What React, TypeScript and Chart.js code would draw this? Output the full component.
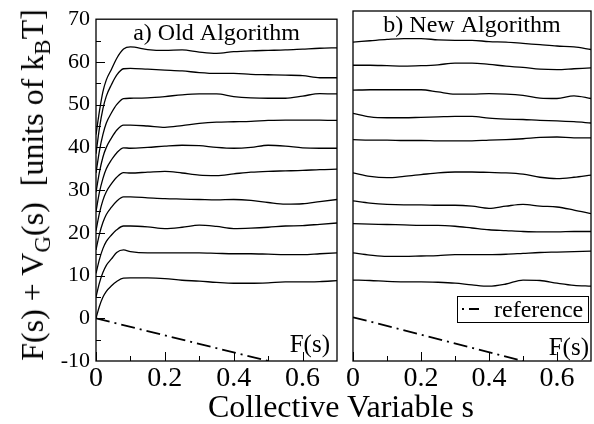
import React, { useEffect, useRef } from "react";
import { Chart, registerables } from "chart.js";
Chart.register(...registerables);

const FONT = "'Liberation Serif', 'Times New Roman', serif";

// s values for the old-algorithm curves (dense near 0 for the steep rise)
const S_OLD = [0, 0.01, 0.02, 0.03, 0.045, 0.06, 0.08, 0.1, 0.15, 0.2, 0.25, 0.3, 0.35, 0.4, 0.45, 0.5, 0.55, 0.6, 0.65, 0.7];
const OLD_1 = [43, 48.5, 53, 55.8, 58.3, 60.8, 63.0, 63.5, 62.9, 62.7, 62.8, 62.3, 62.0, 62.4, 62.6, 62.7, 62.8, 63.0, 63.2, 63.3];
const OLD_2 = [38.5, 44.5, 49, 52, 54.7, 56.9, 58.4, 58.5, 58.3, 58.1, 57.9, 57.5, 57.3, 57.3, 57.1, 57.0, 56.9, 56.8, 56.3, 56.3];
const OLD_3 = [34, 39.2, 43, 45.7, 48.1, 50, 51.4, 51.5, 51.6, 51.9, 52.3, 52.5, 52.5, 51.9, 51.6, 51.5, 51.5, 52.0, 52.6, 52.5];
const OLD_4 = [29.5, 34.2, 37.7, 40, 42.2, 44, 45.2, 45.2, 45.0, 44.7, 45.1, 45.6, 45.9, 46.0, 46.1, 46.3, 46.4, 46.4, 46.4, 46.3];
const OLD_5 = [25, 29.5, 32.7, 35, 37.1, 38.7, 39.9, 39.8, 40.0, 40.3, 40.5, 40.4, 40.0, 39.8, 40.0, 40.5, 40.3, 39.9, 39.8, 39.8];
const OLD_6 = [20.5, 24.6, 27.6, 29.6, 31.5, 33, 34.1, 34.0, 34.2, 34.4, 34.0, 33.5, 33.4, 33.8, 34.2, 34.4, 34.5, 34.6, 34.8, 34.9];
const OLD_7 = [16, 19.7, 22.4, 24.3, 26, 27.4, 28.4, 28.4, 28.2, 28.0, 27.9, 27.8, 27.7, 27.8, 27.6, 27.1, 26.7, 26.8, 27.3, 27.8];
const OLD_8 = [10.5, 13.8, 16.3, 18, 19.5, 20.7, 21.6, 21.6, 21.4, 21.0, 21.3, 21.8, 21.5, 21.0, 21.1, 21.3, 21.6, 21.7, 22.0, 22.3];
const OLD_9 = [5, 8.3, 10.7, 12.4, 13.9, 15.4, 16.0, 15.6, 15.3, 15.3, 15.3, 15.3, 15.2, 15.1, 15.1, 15.0, 14.9, 14.9, 15.1, 15.3];
const OLD_10 = [0, 2.8, 4.9, 6.3, 7.6, 8.6, 9.4, 9.45, 9.45, 9.3, 8.9, 8.7, 8.4, 8.2, 8.2, 8.3, 8.5, 8.5, 8.6, 8.8];

// s values for the new-algorithm curves
const S_NEW = [0, 0.05, 0.1, 0.15, 0.2, 0.25, 0.3, 0.35, 0.4, 0.45, 0.5, 0.55, 0.6, 0.65, 0.7];
const NEW_1 = [62.9, 63.2, 63.5, 63.7, 63.7, 63.4, 63.3, 63.3, 63.0, 62.9, 62.6, 62.3, 62.0, 61.8, 61.2];
const NEW_2 = [57.6, 57.6, 57.5, 57.4, 57.5, 57.7, 58.1, 58.1, 57.8, 57.4, 57.1, 56.7, 56.6, 56.8, 57.0];
const NEW_3 = [51.9, 52.0, 52.0, 52.0, 52.0, 51.5, 51.0, 51.0, 51.1, 51.0, 50.7, 50.1, 50.0, 50.6, 50.0];
const NEW_4 = [46.6, 45.8, 45.6, 45.6, 45.7, 45.8, 45.9, 45.9, 45.5, 45.3, 45.2, 45.0, 44.9, 44.7, 44.4];
const NEW_5 = [40.6, 40.5, 40.5, 40.4, 40.4, 40.3, 40.3, 40.3, 40.5, 40.6, 40.8, 41.1, 41.2, 41.0, 41.0];
const NEW_6 = [33.0, 32.2, 31.9, 32.2, 32.6, 33.0, 33.2, 33.2, 33.1, 33.0, 32.7, 32.0, 31.7, 32.0, 32.5];
const NEW_7 = [26.6, 26.1, 25.8, 25.7, 25.7, 25.6, 25.6, 25.4, 24.9, 25.4, 25.8, 25.4, 25.2, 24.5, 23.7];
const NEW_8 = [21.4, 21.3, 21.2, 21.1, 21.0, 21.0, 20.8, 20.4, 20.0, 19.8, 19.6, 19.5, 19.5, 19.6, 19.6];
const NEW_9 = [14.7, 14.2, 13.9, 13.9, 14.0, 14.1, 14.3, 14.3, 14.3, 14.4, 14.6, 14.8, 14.9, 15.0, 15.1];
const NEW_10 = [8.5, 8.4, 8.2, 8.1, 8.1, 8.0, 7.8, 7.4, 7.1, 7.6, 8.5, 8.4, 7.8, 7.3, 7.1];

// reference F(s)
const REF_S = [0, 0.5];
const REF_F = [0, -10];

const X_MAJOR = [0, 0.2, 0.4, 0.6];
const X_MINOR = [0.1, 0.3, 0.5];
const Y_MAJOR = [0, 10, 20, 30, 40, 50, 60];
const Y_MINOR = [-5, 5, 15, 25, 35, 45, 55, 65];

const OLD_CURVES = [OLD_1, OLD_2, OLD_3, OLD_4, OLD_5, OLD_6, OLD_7, OLD_8, OLD_9, OLD_10];
const NEW_CURVES = [NEW_1, NEW_2, NEW_3, NEW_4, NEW_5, NEW_6, NEW_7, NEW_8, NEW_9, NEW_10];

const REF_DASH = [14, 5, 2, 5];

function buildDatasets(xs: number[], curves: number[][]) {
  const ds: any[] = curves.map((c) => ({
    data: xs.map((x, i) => ({ x, y: c[i] })),
    borderColor: "#000",
    borderWidth: 1.3,
    pointRadius: 0,
    fill: false,
    cubicInterpolationMode: "monotone",
  }));
  ds.push({
    label: "reference",
    data: REF_S.map((x, i) => ({ x, y: REF_F[i] })),
    borderColor: "#000",
    borderWidth: 1.8,
    borderDash: REF_DASH,
    pointRadius: 0,
    fill: false,
  });
  return ds;
}

function panelPlugin(o: { title: string; yTicks: boolean; legend: boolean; fRight: number; fBase: number }) {
  return {
    id: "panelDeco",
    afterDatasetsDraw(chart: any) {
      const { ctx, chartArea: a, scales } = chart;
      const xs = scales.x;
      const ys = scales.y;
      ctx.save();
      ctx.strokeStyle = "#000";
      ctx.fillStyle = "#000";
      ctx.lineWidth = 1.3;
      ctx.setLineDash([]);
      ctx.strokeRect(a.left, a.top, a.right - a.left, a.bottom - a.top);
      ctx.lineWidth = 1;
      ctx.beginPath();
      for (const v of X_MAJOR) {
        const p = Math.round(xs.getPixelForValue(v)) + 0.5;
        ctx.moveTo(p, a.bottom);
        ctx.lineTo(p, a.bottom - 9);
      }
      for (const v of X_MINOR) {
        const p = Math.round(xs.getPixelForValue(v)) + 0.5;
        ctx.moveTo(p, a.bottom);
        ctx.lineTo(p, a.bottom - 5);
      }
      if (o.yTicks) {
        for (const v of Y_MAJOR) {
          const p = Math.round(ys.getPixelForValue(v)) + 0.5;
          ctx.moveTo(a.left, p);
          ctx.lineTo(a.left + 9, p);
        }
        for (const v of Y_MINOR) {
          const p = Math.round(ys.getPixelForValue(v)) + 0.5;
          ctx.moveTo(a.left, p);
          ctx.lineTo(a.left + 5, p);
        }
      }
      ctx.stroke();

      ctx.textBaseline = "alphabetic";
      ctx.font = `24px ${FONT}`;
      ctx.textAlign = "center";
      ctx.fillText(o.title, (a.left + a.right) / 2, a.top + 21);

      ctx.font = `25px ${FONT}`;
      ctx.textAlign = "right";
      ctx.fillText("F(s)", a.right - o.fRight, a.bottom - o.fBase);

      if (o.legend) {
        const bx = a.right - 134;
        const by = a.bottom - 65;
        ctx.fillStyle = "#fff";
        ctx.fillRect(bx, by, 131, 26);
        ctx.fillStyle = "#000";
        ctx.lineWidth = 1;
        ctx.strokeRect(bx + 0.5, by + 0.5, 131, 26);
        ctx.lineWidth = 1.8;
        ctx.setLineDash(REF_DASH);
        ctx.lineDashOffset = 19;
        ctx.beginPath();
        ctx.moveTo(bx + 5, by + 13);
        ctx.lineTo(bx + 22, by + 13);
        ctx.stroke();
        ctx.setLineDash([]);
        ctx.font = `24px ${FONT}`;
        ctx.textAlign = "left";
        ctx.fillText("reference", bx + 37, by + 21);
      }
      ctx.restore();
    },
  };
}

function xTicks(size: number) {
  return {
    stepSize: 0.2,
    includeBounds: false,
    autoSkip: false,
    maxRotation: 0,
    padding: 1,
    color: "#000",
    font: { family: FONT, size },
    callback: (v: any) => String(Math.round(Number(v) * 10) / 10),
  };
}

function makeOptions(showY: boolean, pad: any, yWidth: number) {
  return {
    animation: false,
    responsive: false,
    maintainAspectRatio: false,
    layout: { padding: pad },
    plugins: { legend: { display: false }, tooltip: { enabled: false }, title: { display: false } },
    scales: {
      x: {
        type: "linear",
        min: 0,
        max: 0.7,
        grid: { display: false, drawTicks: false },
        border: { display: false },
        ticks: xTicks(28),
        afterFit: (s: any) => {
          s.height = 63;
        },
      },
      y: {
        type: "linear",
        min: -10,
        max: 70,
        display: showY,
        grid: { display: false, drawTicks: false },
        border: { display: false },
        ticks: {
          stepSize: 10,
          padding: 6,
          color: "#000",
          font: { family: FONT, size: 22 },
          callback: (v: any) => String(Math.round(Number(v))),
        },
        afterFit: (s: any) => {
          s.width = yWidth;
        },
      },
    },
  };
}

export default function App() {
  const leftRef = useRef<HTMLCanvasElement>(null);
  const rightRef = useRef<HTMLCanvasElement>(null);

  useEffect(() => {
    const left = new Chart(leftRef.current as HTMLCanvasElement, {
      type: "line",
      data: { datasets: buildDatasets(S_OLD, OLD_CURVES) },
      options: makeOptions(true, { top: 11, right: 8, left: 0, bottom: 0 }, 96) as any,
      plugins: [panelPlugin({ title: "a) Old Algorithm", yTicks: true, legend: false, fRight: 7, fBase: 9 })],
    });
    const right = new Chart(rightRef.current as HTMLCanvasElement, {
      type: "line",
      data: { datasets: buildDatasets(S_NEW, NEW_CURVES) },
      options: makeOptions(false, { top: 11, right: 3, left: 13, bottom: 0 }, 0) as any,
      plugins: [panelPlugin({ title: "b) New Algorithm", yTicks: false, legend: true, fRight: 2, fBase: 6 })],
    });
    return () => {
      left.destroy();
      right.destroy();
    };
  }, []);

  const subStyle: React.CSSProperties = { fontSize: 23, verticalAlign: -7, lineHeight: 0 };

  return (
    <div style={{ position: "absolute", left: 0, top: 0, width: 594, height: 424, background: "#fff", overflow: "hidden" }}>
      <canvas ref={leftRef} width={345} height={424} style={{ position: "absolute", left: 0, top: 0 }} />
      <canvas ref={rightRef} width={254} height={424} style={{ position: "absolute", left: 340, top: 0 }} />
      <div
        style={{
          position: "absolute",
          left: 341,
          top: 390,
          transform: "translateX(-50%)",
          fontFamily: FONT,
          fontSize: 32,
          lineHeight: "32px",
          whiteSpace: "nowrap",
          color: "#000",
        }}
      >
        Collective Variable s
      </div>
      <div
        style={{
          position: "absolute",
          left: 32,
          top: 185,
          transform: "translate(-50%, -50%) rotate(-90deg)",
          fontFamily: FONT,
          fontSize: 32,
          lineHeight: "32px",
          whiteSpace: "pre",
          color: "#000",
        }}
      >
        F(s) + V<span style={subStyle}>G</span>(s)  [units of k<span style={subStyle}>B</span>T]
      </div>
    </div>
  );
}
